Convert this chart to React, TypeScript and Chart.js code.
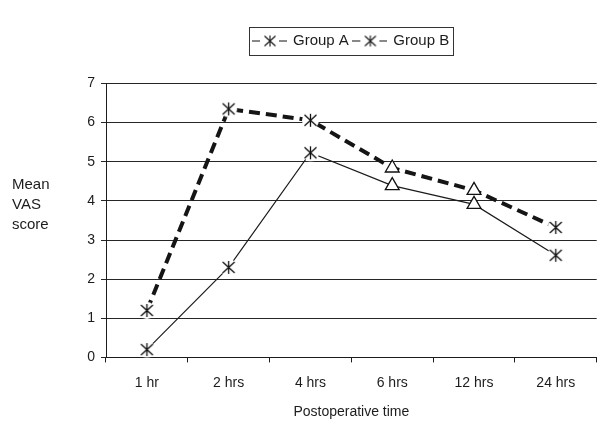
import React, { useEffect, useRef } from "react";
import { Chart, registerables } from "chart.js";

Chart.register(...registerables);

const categories = ["1 hr", "2 hrs", "4 hrs", "6 hrs", "12 hrs", "24 hrs"];
const seriesNames = ["Group A", "Group B"];
const groupA = [0.2, 2.3, 5.23, 4.39, 3.91, 2.61];
const groupB = [1.2, 6.35, 6.06, 4.84, 4.27, 3.32];
const markerShapes = ["asterisk", "asterisk", "asterisk", "triangle", "triangle", "asterisk"];
const yMin = 0;
const yMax = 7;
const yStep = 1;
const yTitleLines = ["Mean", "VAS", "score"];
const xTitle = "Postoperative time";

const FONT = '"Liberation Sans", Arial, Helvetica, sans-serif';
const INK = "#1c1c1c";

function makeAsterisk(): HTMLCanvasElement {
  const c = document.createElement("canvas");
  c.width = 19;
  c.height = 19;
  const g = c.getContext("2d")!;
  g.fillStyle = "#fff";
  g.beginPath();
  g.arc(9.5, 9.5, 8.5, 0, Math.PI * 2);
  g.fill();
  g.strokeStyle = "#111";
  g.lineWidth = 1.3;
  g.beginPath();
  g.moveTo(9.5, 3);
  g.lineTo(9.5, 16);
  g.moveTo(3.5, 4);
  g.lineTo(15.5, 15);
  g.moveTo(15.5, 4);
  g.lineTo(3.5, 15);
  g.stroke();
  return c;
}

function makeLegendSymbol(): HTMLCanvasElement {
  const c = document.createElement("canvas");
  c.width = 35;
  c.height = 16;
  const g = c.getContext("2d")!;
  g.strokeStyle = "#111";
  g.lineWidth = 1.1;
  g.beginPath();
  g.moveTo(0, 8.5);
  g.lineTo(8, 8.5);
  g.moveTo(27, 8.5);
  g.lineTo(35, 8.5);
  g.moveTo(18, 3);
  g.lineTo(18, 14);
  g.moveTo(12.5, 3.5);
  g.lineTo(23.5, 13.5);
  g.moveTo(23.5, 3.5);
  g.lineTo(12.5, 13.5);
  g.stroke();
  return c;
}

const decorPlugin = {
  id: "decor",
  afterDraw(chart: any) {
    const ctx = chart.ctx as CanvasRenderingContext2D;
    ctx.save();
    const lg = chart.legend;
    if (lg && lg.legendHitBoxes && lg.legendHitBoxes.length) {
      const hb = lg.legendHitBoxes;
      const first = hb[0];
      const last = hb[hb.length - 1];
      const left = Math.round(first.left - 4.5) + 0.5;
      const right = Math.round(last.left + last.width + 4) + 0.5;
      const cy = first.top + first.height / 2;
      const top = Math.round(cy - 14) + 0.5;
      ctx.strokeStyle = "#333";
      ctx.lineWidth = 1;
      ctx.strokeRect(left, top, right - left, 28);
    }
    ctx.fillStyle = INK;
    ctx.font = "15px " + FONT;
    ctx.textBaseline = "middle";
    ctx.textAlign = "left";
    const baseY = chart.chartArea.top + 101;
    yTitleLines.forEach((t, i) => ctx.fillText(t, 12, baseY + i * 20));
    ctx.restore();
  },
};

export default function App() {
  const ref = useRef<HTMLCanvasElement | null>(null);

  useEffect(() => {
    if (!ref.current) return;
    const star = makeAsterisk();
    const legendSym = makeLegendSymbol();
    const styles = markerShapes.map((m) => (m === "asterisk" ? star : "triangle"));

    const chart = new Chart(ref.current, {
      type: "line",
      data: {
        labels: categories,
        datasets: [
          {
            label: seriesNames[0],
            data: groupA,
            borderColor: INK,
            borderWidth: 1.2,
            pointStyle: styles as any,
            pointRadius: 8,
            pointBackgroundColor: "#fff",
            pointBorderColor: "#111",
            pointBorderWidth: 1.3,
            tension: 0,
            fill: false,
          },
          {
            label: seriesNames[1],
            data: groupB,
            borderColor: "#151515",
            borderWidth: 4,
            borderDash: [11, 6],
            pointStyle: styles as any,
            pointRadius: 8,
            pointBackgroundColor: "#fff",
            pointBorderColor: "#111",
            pointBorderWidth: 1.3,
            tension: 0,
            fill: false,
          },
        ],
      },
      options: {
        responsive: false,
        animation: false,
        events: [],
        layout: { padding: { top: 28, left: 0, right: 1, bottom: 0 } },
        plugins: {
          tooltip: { enabled: false },
          title: {
            display: true,
            text: "",
            position: "top",
            fullSize: false,
            weight: 500,
            font: { size: 10 },
            padding: { top: 0, bottom: 13.5 },
          } as any,
          legend: {
            display: true,
            position: "top",
            fullSize: false,
            labels: {
              usePointStyle: true,
              pointStyle: legendSym as any,
              pointStyleWidth: 32,
              padding: 5,
              color: INK,
              font: { family: FONT, size: 15 },
            },
          } as any,
        },
        scales: {
          x: {
            type: "category",
            offset: true,
            grid: {
              offset: true,
              drawOnChartArea: false,
              drawTicks: true,
              tickLength: 5,
              color: INK,
            },
            border: { color: INK, width: 1 },
            ticks: {
              color: INK,
              padding: 12.5,
              font: { family: FONT, size: 14 },
              maxRotation: 0,
            },
            title: {
              display: true,
              text: xTitle,
              color: INK,
              padding: { top: 0, bottom: 0 },
              font: { family: FONT, size: 14 },
            },
          },
          y: {
            min: yMin,
            max: yMax,
            afterFit: (scale: any) => {
              scale.width = 106;
            },
            grid: {
              color: "#262626",
              lineWidth: 1,
              drawTicks: true,
              tickLength: 5,
            },
            border: { color: INK, width: 1 },
            ticks: {
              stepSize: yStep,
              color: INK,
              padding: 6,
              font: { family: FONT, size: 14 },
            },
          },
        },
      },
      plugins: [decorPlugin],
    });
    return () => chart.destroy();
  }, []);

  return (
    <div
      style={{
        position: "fixed",
        left: 0,
        top: 0,
        width: 600,
        height: 421,
        overflow: "hidden",
        background: "#fff",
      }}
    >
      <canvas ref={ref} width={606} height={421} style={{ display: "block" }} />
    </div>
  );
}
